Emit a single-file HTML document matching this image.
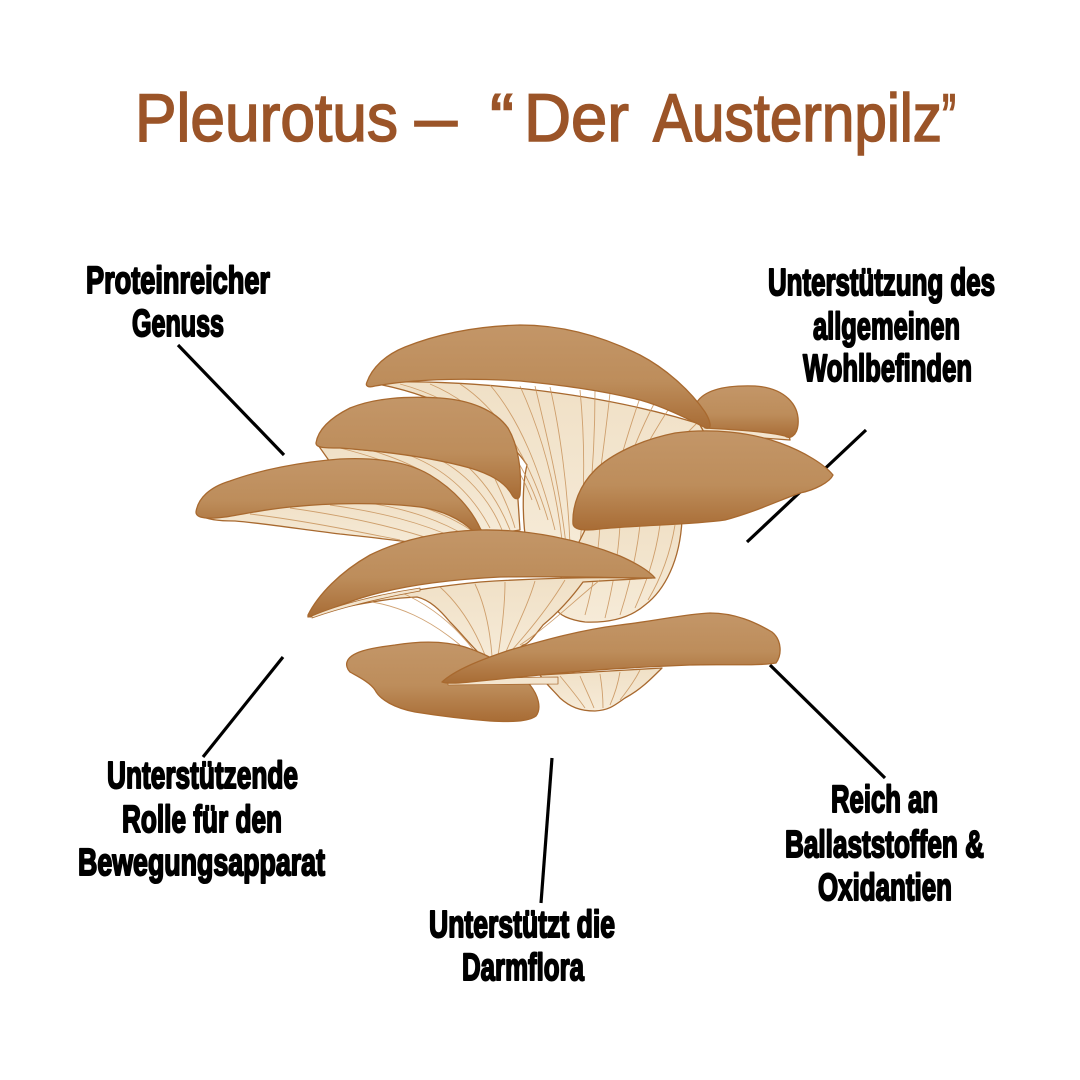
<!DOCTYPE html>
<html><head><meta charset="utf-8"><style>
html,body{margin:0;padding:0;background:#fff;}
svg{display:block;}
.t{font-family:"Liberation Sans",sans-serif;font-weight:700;font-size:38px;fill:#000;stroke:#000;stroke-width:2px;stroke-linejoin:round;}
.h{font-family:"Liberation Sans",sans-serif;font-size:68px;fill:#9b5428;stroke:#9b5428;stroke-width:1.6px;}
.g{stroke:#c8935c;stroke-width:0.9;fill:none;opacity:.85}
</style></head><body>
<svg width="1080" height="1080" viewBox="0 0 1080 1080" xmlns="http://www.w3.org/2000/svg">
<defs>
<linearGradient id="cap" x1="0" y1="0" x2="0" y2="1">
<stop offset="0" stop-color="#c39668"/><stop offset="0.55" stop-color="#bd8d5b"/><stop offset="1" stop-color="#a86c35"/>
</linearGradient>
<linearGradient id="cream" x1="0" y1="0" x2="0" y2="1">
<stop offset="0" stop-color="#f0e0c6"/><stop offset="1" stop-color="#f6ebd8"/>
</linearGradient>
</defs>

<!-- Title -->
<text class="h" x="135" y="141" textLength="263" lengthAdjust="spacingAndGlyphs">Pleurotus</text>
<text class="h" x="415" y="141" textLength="42" lengthAdjust="spacingAndGlyphs">–</text>
<text class="h" x="490" y="141" textLength="24" lengthAdjust="spacingAndGlyphs">“</text>
<text class="h" x="524" y="141" textLength="105" lengthAdjust="spacingAndGlyphs">Der</text>
<text class="h" x="653" y="141" textLength="289" lengthAdjust="spacingAndGlyphs">Austernpilz</text>
<text class="h" x="942" y="141" textLength="14" lengthAdjust="spacingAndGlyphs">”</text>

<!-- connector lines -->
<g stroke="#000" stroke-width="3.2" stroke-linecap="butt">
<line x1="178" y1="345" x2="284" y2="455"/>
<line x1="866" y1="430" x2="747" y2="542"/>
<line x1="283" y1="657" x2="203" y2="757"/>
<line x1="552" y1="758" x2="541" y2="903"/>
<line x1="770" y1="665" x2="885" y2="778"/>
</g>

<!-- Mushrooms -->
<g stroke="#a8692f" stroke-width="1.3" stroke-linejoin="round">
<!-- top gills/stem -->
<path fill="url(#cream)" d="M372,383 C450,378 600,390 712,428 L700,470 L610,520 L598,556 L560,560 L527,548 C522,520 522,485 527,465 C505,430 440,395 372,383 Z"/>
<g class="g">
<path d="M400,384 C460,400 510,440 532,500"/><path d="M430,384 C480,405 520,450 540,510"/>
<path d="M460,384 C500,410 530,460 548,520"/><path d="M490,385 C520,420 540,470 555,530"/>
<path d="M520,386 C540,430 555,480 562,540"/><path d="M550,387 C560,430 568,490 570,545"/>
<path d="M580,390 C585,440 585,490 580,545"/><path d="M610,393 C605,440 598,490 590,545"/>
<path d="M640,398 C625,440 612,490 598,540"/><path d="M670,407 C645,445 625,485 605,530"/>
<path d="M700,420 C670,450 640,480 612,520"/><path d="M535,386 C548,440 560,490 566,545"/>
<path d="M595,391 C595,440 592,490 585,545"/><path d="M655,402 C635,440 618,488 602,535"/>
</g>
<!-- right back small cap -->
<path fill="#f3e5cf" d="M700,425 L788,430 L790,440 L705,434 Z"/>
<path fill="url(#cap)" d="M697,402 C705,390 725,385 755,386 C785,388 800,405 798,425 C797,435 790,440 785,436 C770,432 740,430 705,428 Z"/>
<!-- top cap -->
<path fill="url(#cap)" d="M367,382 C372,368 385,355 405,347 C440,333 480,326 520,325 C560,325 600,335 640,355 C665,368 690,390 705,412 C710,420 713,430 706,428 C690,420 665,407 640,400 C600,390 560,385 520,381 C470,378 420,378 375,386 C368,388 365,386 367,382 Z"/>
<!-- mid-left gills -->
<path fill="url(#cream)" d="M318,445 C360,450 420,455 470,462 L516,470 L520,530 L480,536 L450,500 L400,472 L330,462 Z"/>
<g class="g">
<path d="M340,448 C380,458 420,472 450,500"/><path d="M370,450 C410,462 450,480 475,520"/>
<path d="M400,452 C440,465 470,490 490,528"/><path d="M430,455 C465,470 490,500 502,530"/>
<path d="M460,460 C485,480 500,505 510,530"/><path d="M490,468 C500,490 510,510 515,528"/>
</g>
<!-- mid-left cap -->
<path fill="url(#cap)" d="M316,443 C318,430 330,418 350,408 C375,398 405,396 440,398 C470,400 495,410 508,428 C518,445 522,470 520,495 C519,500 515,500 512,495 C505,482 490,474 470,468 C430,457 380,451 340,448 C325,448 316,448 316,443 Z"/>
<!-- far-left gills -->
<path fill="url(#cream)" d="M200,514 C250,508 330,500 400,500 C440,505 470,515 486,535 L472,549 C430,545 380,538 340,534 C300,529 260,523 235,521 C220,521 205,520 200,514 Z"/>
<g class="g">
<path d="M250,514 C300,520 350,530 400,540"/><path d="M290,508 C340,515 390,525 440,542"/>
<path d="M330,505 C380,512 420,522 460,540"/><path d="M370,503 C410,510 440,520 470,538"/>
<path d="M410,503 C440,512 460,522 478,535"/>
</g>
<!-- far-left cap -->
<path fill="url(#cap)" d="M196,512 C198,498 210,487 230,481 C260,470 300,462 340,459 C380,457 410,463 430,475 C455,490 472,510 481,530 C483,536 478,538 474,532 C460,518 440,510 420,507 C380,502 330,503 290,507 C260,510 240,515 225,517 C210,519 196,519 196,512 Z"/>
<!-- right stem -->
<path fill="url(#cream)" d="M590,520 L682,520 C680,560 665,590 645,605 C630,618 610,623 585,622 C570,620 558,615 556,608 L560,580 Z"/>
<g class="g">
<path d="M600,525 C598,560 592,590 585,615"/><path d="M620,525 C618,560 612,590 605,618"/>
<path d="M640,525 C636,560 628,590 620,615"/><path d="M660,525 C655,560 645,585 635,608"/>
<path d="M675,525 C670,555 660,580 648,600"/>
</g>
<!-- right big cap -->
<path fill="url(#cap)" d="M573,524 C572,505 580,485 595,470 C610,455 640,440 675,433 C710,428 750,432 780,443 C805,452 825,465 833,475 C830,482 815,490 800,493 C780,500 755,512 725,520 C690,525 640,525 600,529 C585,531 574,530 573,524 Z"/>
<!-- middle stem & gills -->
<path fill="url(#cream)" d="M310,617 C360,598 420,588 480,582 C540,578 600,577 652,578 L583,582 C570,600 555,615 543,625 C535,635 528,645 523,645 C515,652 508,658 500,659 C490,660 482,657 476,650 C468,642 460,632 450,622 C440,610 430,600 417,597 C390,598 340,606 310,617 Z"/>
<g class="g">
<path d="M360,600 C400,605 430,620 460,645"/><path d="M400,592 C430,605 455,625 475,652"/>
<path d="M440,587 C460,605 475,630 485,655"/><path d="M475,584 C485,605 490,630 492,656"/>
<path d="M505,582 C505,605 502,630 498,656"/><path d="M535,581 C528,605 515,630 505,654"/>
<path d="M565,580 C550,605 530,630 512,650"/><path d="M600,580 C575,600 550,625 520,645"/>
</g>
<!-- middle cap -->
<path fill="url(#cap)" d="M308,615 C318,595 340,572 370,555 C400,540 440,531 480,530 C530,529 580,540 620,556 C638,564 650,572 655,578 C620,578 560,576 500,577 C440,580 390,588 355,600 C335,607 318,614 308,617 Z"/>
<path fill="#f3e5cf" stroke-width="0.8" d="M312,616 C340,604 380,594 420,588 L420,591 C380,598 340,608 312,618 Z"/>
<!-- bottom-left cap -->
<path fill="url(#cap)" d="M347,662 C350,652 370,648 395,645 C420,641 445,641 465,647 C490,655 515,670 530,685 C538,695 542,708 536,716 C528,722 510,722 490,721 C465,719 440,716 415,712 C395,708 380,700 375,690 C370,682 355,675 350,672 C347,669 346,665 347,662 Z"/>
<!-- long cap gills -->
<path fill="url(#cream)" d="M540,675 L662,668 C650,680 640,690 625,698 C615,705 610,710 595,711 C580,711 570,707 560,698 C553,690 545,683 540,675 Z"/>
<g class="g">
<path d="M560,676 C570,688 578,698 585,708"/><path d="M580,676 C585,688 590,698 594,708"/>
<path d="M600,674 C602,686 603,698 603,708"/><path d="M620,672 C618,684 614,696 610,705"/>
<path d="M640,670 C635,680 628,690 620,700"/>
</g>
<path fill="#f3e5cf" stroke-width="0.8" d="M448,682 C480,679 520,677 558,677 L558,684 C520,684 480,685 448,685 Z"/>
<!-- long cap -->
<path fill="url(#cap)" d="M442,682 C455,670 480,660 510,650 C545,640 580,630 620,625 C655,621 685,614 710,613 C735,613 755,622 772,632 C782,640 782,655 776,663 C760,666 720,664 690,665 C640,667 590,670 550,674 C520,677 490,680 470,682 C458,683 448,684 442,682 Z"/>
</g>

<!-- Labels -->
<text class="t" x="86" y="293" textLength="184" lengthAdjust="spacingAndGlyphs">Proteinreicher</text>
<text class="t" x="132" y="336" textLength="92" lengthAdjust="spacingAndGlyphs">Genuss</text>
<text class="t" x="768" y="295" textLength="227" lengthAdjust="spacingAndGlyphs">Unterstützung des</text>
<text class="t" x="813" y="339" textLength="147" lengthAdjust="spacingAndGlyphs">allgemeinen</text>
<text class="t" x="803" y="381" textLength="169" lengthAdjust="spacingAndGlyphs">Wohlbefinden</text>
<text class="t" x="107" y="788" textLength="191" lengthAdjust="spacingAndGlyphs">Unterstützende</text>
<text class="t" x="122" y="832" textLength="160" lengthAdjust="spacingAndGlyphs">Rolle für den</text>
<text class="t" x="78" y="875" textLength="247" lengthAdjust="spacingAndGlyphs">Bewegungsapparat</text>
<text class="t" x="429" y="937" textLength="186" lengthAdjust="spacingAndGlyphs">Unterstützt die</text>
<text class="t" x="462" y="980" textLength="122" lengthAdjust="spacingAndGlyphs">Darmflora</text>
<text class="t" x="831" y="812" textLength="107" lengthAdjust="spacingAndGlyphs">Reich an</text>
<text class="t" x="785" y="857" textLength="199" lengthAdjust="spacingAndGlyphs">Ballaststoffen &amp;</text>
<text class="t" x="818" y="900" textLength="134" lengthAdjust="spacingAndGlyphs">Oxidantien</text>
</svg>
</body></html>
